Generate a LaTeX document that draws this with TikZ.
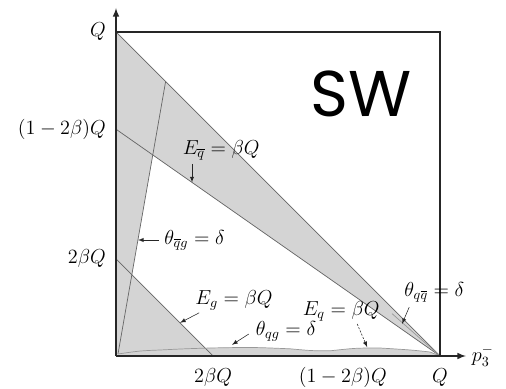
\documentclass[tikz,border=0pt]{standalone}
\usepackage{amsmath}
\usepackage{fontspec}
\newfontfamily\swfont{Poppins}
\begin{document}
\begin{tikzpicture}[>=latex]

% --- styles ---
\tikzset{
    region/.style={fill=black!17, draw=none},
    boundary/.style={draw=black!60, line width=0.5pt},
    frame/.style={draw=black!85, line width=1.1pt},
    axis/.style={->, >=latex, line width=1.1pt, draw=black!85},
    tick/.style={font=\fontsize{14}{16}\selectfont, inner sep=2pt},
    curvelabel/.style={font=\fontsize{14}{16}\selectfont, inner sep=1pt},
    pointer/.style={->, >=latex, thin, draw=black!85},
    dashpointer/.style={->, >=latex, thin, dashed, dash pattern=on 1.5pt off 1pt, draw=black!85}
}

\useasboundingbox (-2.9,-0.8) rectangle (9.75,8.9);

% corners and boundary points (Q = 8.1, beta = 0.15)
\coordinate (O)  at (0,0);
\coordinate (qy) at (0,8.1);
\coordinate (qx) at (8.1,0);
\coordinate (qq) at (8.1,8.1);
\coordinate (by) at (0,5.67);
\coordinate (gy) at (0,2.43);
\coordinate (gx) at (2.43,0);
\coordinate (tb) at (0.05,0.05);
\coordinate (tt) at (1.24,6.86);
\coordinate (ty) at (0,8.7);
\coordinate (tx) at (8.75,0);

% gray regions
\path[region] (qy) -- (qx) -- (by) -- cycle;
\path[region] (O) -- (tb) -- (tt) -- (qy) -- cycle;
\path[region] (O) -- (gy) -- (gx) -- cycle;
\path[region] (O) -- (tb) .. controls (0.6,0.13) .. (1.1,0.15)
    .. controls (1.7,0.18) .. (2.35,0.2)
    .. controls (3.4,0.22) .. (4.35,0.18)
    .. controls (4.9,0.13) .. (5.35,0.13)
    .. controls (6,0.2) .. (6.6,0.2)
    .. controls (7.4,0.15) .. (7.85,0.1) -- (qx) -- cycle;

% boundaries
\draw[boundary] (qy) -- (qx);
\draw[boundary] (by) -- (qx);
\draw[boundary] (tb) -- (tt);
\draw[boundary] (gy) -- (gx);
\draw[boundary, draw=black!40] (tb) .. controls (0.6,0.13) .. (1.1,0.15)
    .. controls (1.7,0.18) .. (2.35,0.2)
    .. controls (3.4,0.22) .. (4.35,0.18)
    .. controls (4.9,0.13) .. (5.35,0.13)
    .. controls (6,0.2) .. (6.6,0.2)
    .. controls (7.4,0.15) .. (7.85,0.1) -- (qx);
\draw[boundary, draw=black!40] (6.9,1.06) .. controls (7.5,0.55) .. (qx);

% frame and axes
\draw[frame] (qy) -- (qq) -- (qx);
\draw[axis] (O) -- (ty);
\draw[axis] (O) -- (tx);

% axis labels
\node[tick, left=5pt]  (lqy) at (qy) {$Q$};
\node[tick, left=5pt]  (lby) at (by) {$(1-2\beta)Q$};
\node[tick, left=5pt]  (lgy) at (gy) {$2\beta Q$};
\node[tick] (lgx) at (2.43,-0.53) {$2\beta Q$};
\node[tick] (lbx) at (5.67,-0.53) {$(1-2\beta)Q$};
\node[tick] (lqx) at (8.1,-0.53) {$Q$};
\node[tick, right=2pt] (lp) at (tx) {$p_3^-$};

% title
\node (sw) at (6.13,6.55) {\swfont\fontsize{46}{50}\selectfont SW};

% curve labels with pointers
\node[curvelabel] (eqb) at (2.63,5.15) {$E_{\overline{q}} = \beta Q$};
\coordinate (eqbs) at (1.9,4.8);
\coordinate (eqbt) at (1.9,4.34);
\draw[pointer] (eqbs) -- (eqbt);

\node[curvelabel, anchor=west] (tqbg) at (1.17,2.9) {$\theta_{\overline{q}g} = \delta$};
\coordinate (tqbgs) at (1.08,2.9);
\coordinate (tqbgt) at (0.55,2.9);
\draw[pointer] (tqbgs) -- (tqbgt);

\node[curvelabel] (eg) at (2.95,1.38) {$E_g = \beta Q$};
\coordinate (egs) at (2.08,1.08);
\coordinate (egt) at (1.6,0.83);
\draw[pointer] (egs) -- (egt);

\node[curvelabel] (tqg) at (4.25,0.62) {$\theta_{qg} = \delta$};
\coordinate (tqgs) at (3.32,0.55);
\coordinate (tqgt) at (2.9,0.28);
\draw[pointer] (tqgs) -- (tqgt);

\node[curvelabel] (eq) at (5.63,1.12) {$E_q = \beta Q$};
\coordinate (eqs) at (6.03,0.8);
\coordinate (eqt) at (6.28,0.22);
\draw[dashpointer] (eqs) -- (eqt);

\node[curvelabel, anchor=west] (tqqb) at (7.17,1.6) {$\theta_{q\overline{q}} = \delta$};
\coordinate (tqqbs) at (7.33,1.22);
\coordinate (tqqbt) at (7.15,0.8);
\draw[pointer] (tqqbs) -- (tqqbt);

\end{tikzpicture}
\end{document}
